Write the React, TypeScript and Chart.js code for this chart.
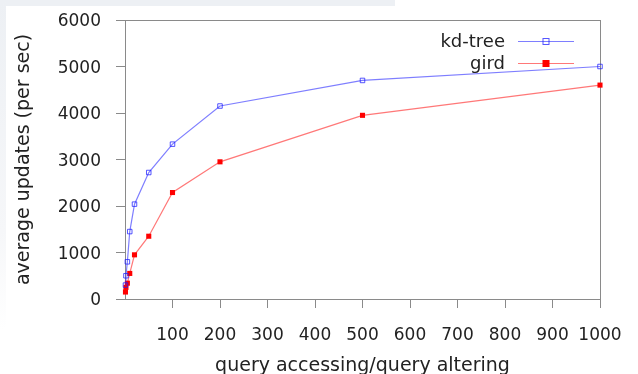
import React, { useEffect, useRef } from "react";
import { Chart, registerables } from "chart.js";
Chart.register(...registerables);

const xValues = [1, 2, 5, 10, 20, 50, 100, 200, 500, 1000];
const kdTree = [300, 500, 800, 1450, 2040, 2720, 3330, 4150, 4700, 5000];
const gird = [150, 250, 340, 550, 950, 1350, 2290, 2950, 3950, 4600];
const xTicks = [100, 200, 300, 400, 500, 600, 700, 800, 900, 1000];
const yTicks = [0, 1000, 2000, 3000, 4000, 5000, 6000];
const seriesNames = ["kd-tree", "gird"];
const xTitle = "query accessing/query altering";
const yTitle = "average updates (per sec)";

const FONT = "'DejaVu Sans', sans-serif";
const AXIS = "#8a8a8a";
const BLUE_LINE = "rgba(40,40,255,0.6)";
const BLUE_MARK = "rgba(30,30,255,0.75)";
const RED_LINE = "rgba(255,30,30,0.6)";
const RED_MARK = "#ff0000";

const boxPlugin = {
  id: "box",
  beforeDatasetsDraw(chart: any) {
    const { ctx, chartArea } = chart;
    ctx.save();
    ctx.strokeStyle = AXIS;
    ctx.lineWidth = 1;
    ctx.strokeRect(
      Math.round(chartArea.left) + 0.5,
      Math.round(chartArea.top) + 0.5,
      Math.round(chartArea.right - chartArea.left),
      Math.round(chartArea.bottom - chartArea.top)
    );
    ctx.restore();
  },
};

const legendPlugin = {
  id: "customLegend",
  afterDraw(chart: any) {
    const { ctx, chartArea } = chart;
    const textRight = chartArea.right - 95;
    const lineStart = chartArea.right - 82;
    const lineEnd = chartArea.right - 26;
    const mid = (lineStart + lineEnd) / 2;
    const rows = [
      { name: seriesNames[0], line: BLUE_LINE, mark: BLUE_MARK, fill: false, y: chartArea.top + 21 },
      { name: seriesNames[1], line: RED_LINE, mark: RED_MARK, fill: true, y: chartArea.top + 43 },
    ];
    ctx.save();
    ctx.font = `18px ${FONT}`;
    ctx.textAlign = "right";
    ctx.textBaseline = "middle";
    for (const r of rows) {
      ctx.fillStyle = "#222";
      ctx.fillText(r.name, textRight, r.y + 1.5);
      ctx.strokeStyle = r.line;
      ctx.lineWidth = 1.2;
      ctx.beginPath();
      ctx.moveTo(lineStart, r.y + 0.5);
      ctx.lineTo(lineEnd, r.y + 0.5);
      ctx.stroke();
      if (r.fill) {
        ctx.fillStyle = r.mark;
        ctx.fillRect(mid - 3.5, r.y - 3, 7, 7);
      } else {
        ctx.strokeStyle = r.mark;
        ctx.lineWidth = 1;
        ctx.strokeRect(mid - 3, r.y - 2.5, 6, 6);
      }
    }
    ctx.restore();
  },
};

export default function App() {
  const ref = useRef<HTMLCanvasElement>(null);
  useEffect(() => {
    document.body.style.margin = "0";
    const canvas = ref.current;
    if (!canvas) return;
    const chart = new Chart(canvas, {
      type: "line",
      data: {
        datasets: [
          {
            label: seriesNames[0],
            data: xValues.map((x, i) => ({ x, y: kdTree[i] })),
            borderColor: BLUE_LINE,
            borderWidth: 1.2,
            pointStyle: "rect",
            pointRadius: 3.2,
            pointBorderWidth: 1,
            pointBorderColor: BLUE_MARK,
            pointBackgroundColor: "rgba(255,255,255,0)",
            tension: 0,
            clip: false,
          } as any,
          {
            label: seriesNames[1],
            data: xValues.map((x, i) => ({ x, y: gird[i] })),
            borderColor: RED_LINE,
            borderWidth: 1.2,
            pointStyle: "rect",
            pointRadius: 3.6,
            pointBorderWidth: 0,
            pointBorderColor: RED_MARK,
            pointBackgroundColor: RED_MARK,
            tension: 0,
            clip: false,
          } as any,
        ],
      },
      options: {
        responsive: false,
        animation: false,
        layout: { padding: { top: 20, right: 38, left: 0, bottom: 0 } },
        plugins: { legend: { display: false }, tooltip: { enabled: false } },
        scales: {
          x: {
            type: "linear",
            min: 0,
            max: 1000,
            afterBuildTicks: (s: any) => {
              s.ticks = xTicks.map((v) => ({ value: v }));
            },
            afterFit: (s: any) => {
              s.height = 75;
              s.paddingLeft = 0;
              s.paddingRight = 0;
            },
            grid: { drawOnChartArea: false, drawTicks: true, tickLength: 9, color: AXIS },
            border: { display: true, color: AXIS },
            ticks: {
              color: "#222",
              font: { family: FONT, size: 17 },
              padding: 17,
              maxRotation: 0,
              autoSkip: false,
              callback: (v: any) => String(v),
            },
            title: {
              display: true,
              text: xTitle,
              color: "#222",
              font: { family: FONT, size: 19 },
              padding: { top: 0, bottom: -3 },
            },
          },
          y: {
            type: "linear",
            min: 0,
            max: 6000,
            afterBuildTicks: (s: any) => {
              s.ticks = yTicks.map((v) => ({ value: v }));
            },
            afterFit: (s: any) => {
              s.width = 125;
              s.paddingTop = 0;
              s.paddingBottom = 0;
            },
            grid: { drawOnChartArea: false, drawTicks: true, tickLength: 9, color: AXIS },
            border: { display: true, color: AXIS },
            ticks: {
              color: "#222",
              font: { family: FONT, size: 17 },
              padding: 15,
              labelOffset: 2,
              autoSkip: false,
              callback: (v: any) => String(v),
            },
            title: {
              display: true,
              text: yTitle,
              color: "#222",
              font: { family: FONT, size: 19 },
              padding: { top: 13, bottom: 0 },
            },
          },
        },
      },
      plugins: [boxPlugin, legendPlugin],
    });
    return () => chart.destroy();
  }, []);
  return (
    <div style={{ position: "relative", width: 638, height: 374, background: "#fff" }}>
      <div style={{ position: "absolute", left: 0, top: 0, width: 395, height: 6, background: "#edf0f4" }} />
      <div
        style={{
          position: "absolute",
          left: 0,
          top: 0,
          width: 6,
          height: 330,
          background: "linear-gradient(#edf0f4, #f6f7f9 70%, #ffffff)",
        }}
      />
      <canvas ref={ref} width={638} height={374} style={{ position: "absolute", left: 0, top: 0, display: "block" }} />
    </div>
  );
}
